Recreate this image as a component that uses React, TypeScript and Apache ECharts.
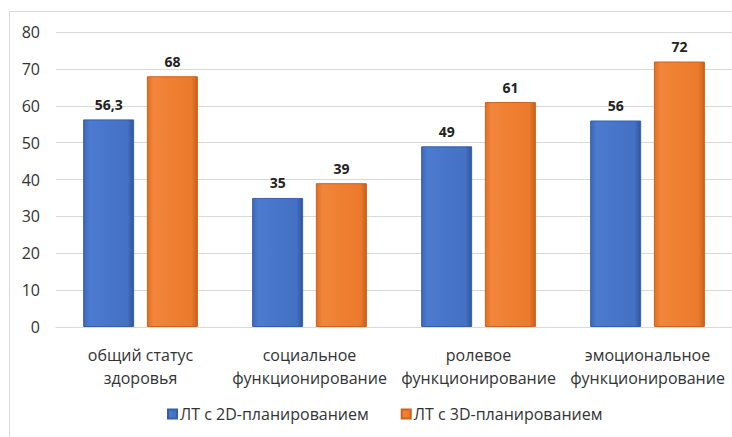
import React, { useEffect, useRef } from "react";
import * as echarts from "echarts";

const categories = [
  "общий статус\nздоровья",
  "социальное\nфункционирование",
  "ролевое\nфункционирование",
  "эмоциональное\nфункционирование",
];
const series2D = [56.3, 35, 49, 56];
const series3D = [68, 39, 61, 72];
const seriesNames = ["ЛТ с 2D-планированием", "ЛТ с 3D-планированием"];
const yTicks = { min: 0, max: 80, interval: 10 };

const FONT = "'Open Sans', 'Noto Sans', sans-serif";

export default function App() {
  const ref = useRef<HTMLDivElement>(null);
  useEffect(() => {
    if (!ref.current) return;
    const chart = echarts.init(ref.current, null, { renderer: "svg" });
    const blue = new echarts.graphic.LinearGradient(0, 0, 1, 0, [
      { offset: 0, color: "#3e68b8" },
      { offset: 0.12, color: "#4c7bcf" },
      { offset: 0.5, color: "#4775c9" },
      { offset: 0.88, color: "#4471c3" },
      { offset: 1, color: "#2f559c" },
    ]);
    const orange = new echarts.graphic.LinearGradient(0, 0, 1, 0, [
      { offset: 0, color: "#e06f22" },
      { offset: 0.12, color: "#f2863c" },
      { offset: 0.5, color: "#ef7f31" },
      { offset: 0.88, color: "#ec7a2c" },
      { offset: 1, color: "#c9601a" },
    ]);
    const label = {
      show: true,
      position: "top" as const,
      distance: 8,
      fontFamily: FONT,
      fontWeight: "bold" as const,
      fontSize: 14,
      color: "#222",
      formatter: (p: any) => String(p.value).replace(".", ","),
    };
    chart.setOption({
      animation: false,
      backgroundColor: "#fff",
      graphic: [
        {
          type: "rect",
          shape: { x: 9.5, y: 11.5, width: 740, height: 440 },
          style: { fill: "none", stroke: "#d9d9d9", lineWidth: 1 },
          silent: true,
        },
      ],
      grid: { left: 56, right: 0, top: 32, bottom: 110, containLabel: false },
      legend: {
        bottom: 10,
        left: 162,
        itemWidth: 9,
        itemHeight: 9,
        itemGap: 32,
        icon: "rect",
        textStyle: { fontFamily: FONT, fontSize: 16, color: "#333", padding: [0, 0, 0, -2] },
        data: seriesNames,
      },
      xAxis: {
        type: "category",
        data: categories,
        axisLine: { lineStyle: { color: "#d9d9d9" } },
        axisTick: { show: false },
        axisLabel: {
          fontFamily: FONT,
          fontSize: 16,
          color: "#333",
          lineHeight: 23,
          margin: 16,
          interval: 0,
        },
      },
      yAxis: {
        type: "value",
        min: yTicks.min,
        max: yTicks.max,
        interval: yTicks.interval,
        axisLine: { show: false },
        axisTick: { show: false },
        splitLine: { lineStyle: { color: "#d9d9d9" } },
        axisLabel: { fontFamily: FONT, fontSize: 16, color: "#333", margin: 16 },
      },
      series: [
        {
          name: seriesNames[0],
          type: "bar",
          data: series2D,
          barWidth: 51,
          barGap: "25%",
          itemStyle: { color: blue, borderColor: "#3560a8", borderWidth: 1 },
          label,
        },
        {
          name: seriesNames[1],
          type: "bar",
          data: series3D,
          barWidth: 51,
          itemStyle: { color: orange, borderColor: "#c8641f", borderWidth: 1 },
          label,
        },
      ],
    });
    return () => chart.dispose();
  }, []);
  return (
    <div
      ref={ref}
      style={{ position: "absolute", left: 0, top: 0, width: 732, height: 437 }}
    />
  );
}
